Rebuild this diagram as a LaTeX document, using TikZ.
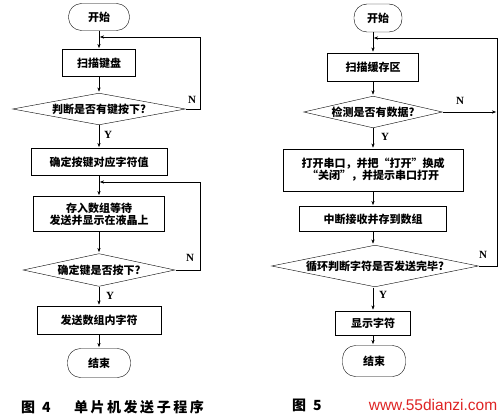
\documentclass[tikz,border=0pt]{standalone}
\usepackage{fontspec}
\setmainfont{Liberation Serif}
\newfontfamily\cjk{Noto Sans CJK SC}
\newfontfamily\capfont[LetterSpace=18]{Noto Sans CJK SC}
\newfontfamily\wmfont{Liberation Sans}
\usetikzlibrary{arrows.meta, shapes.geometric}
\definecolor{wmred}{RGB}{222,36,36}

\begin{document}
\begin{tikzpicture}[x=1pt, y=-1pt,
    every node/.style={font=\cjk\bfseries\fontsize{11}{14}\selectfont},
    term/.style={draw, rounded corners=13pt, inner sep=0pt},
    proc/.style={draw, inner sep=0pt, align=center},
    decide/.style={draw, diamond, inner sep=0pt},
    arr/.style={-{Stealth[length=6pt,width=4.5pt]}},
    yn/.style={font=\bfseries\fontsize{11}{12}\selectfont}]
    \useasboundingbox (0,0) rectangle (503,417);
    \tikzset{line width=1pt}

    % 图4 左侧流程
    \node[term, minimum width=61pt, minimum height=27pt] (s1) at (99,17) {开始};
    \node[proc, minimum width=73pt, minimum height=27pt] (b1) at (99,63) {扫描键盘};
    \node[decide, minimum width=173pt, minimum height=32pt] (d1) at (99,109) {\makebox[0pt]{判断是否有键按下?}};
    \node[proc, minimum width=136pt, minimum height=27pt] (b2) at (99,162) {确定按键对应字符值};
    \node[proc, minimum width=131pt, minimum height=35pt] (b3) at (99,214) {存入数组等待\\[-2pt]发送并显示在液晶上};
    \node[decide, minimum width=152pt, minimum height=33pt] (d2) at (99,270) {\makebox[0pt]{确定键是否按下?}};
    \node[proc, minimum width=124pt, minimum height=28pt] (b4) at (99,320) {发送数组内字符};
    \node[term, minimum width=63pt, minimum height=29pt] (e1) at (99,363) {结束};
    \coordinate (j1) at (99,37);
    \coordinate (j2) at (99,182);
    \coordinate (l1) at (200,37);
    \coordinate (l2) at (200,182);

    \draw[arr] (s1) -- (b1);
    \draw[arr] (b1) -- (d1);
    \draw[arr] (d1) -- (b2);
    \draw[arr] (b2) -- (b3);
    \draw[arr] (b3) -- (d2);
    \draw[arr] (d2) -- (b4);
    \draw[arr] (b4) -- (e1);
    \draw[arr] (d1.east) -| (l1) -- (j1);
    \draw[arr] (d2.east) -| (l2) -- (j2);
    \node[yn] (n1) at (192,100) {N};
    \node[yn] (y1) at (108,135) {Y};
    \node[yn] (n2) at (190,258) {N};
    \node[yn] (y2) at (110,296) {Y};

    % 图5 右侧流程
    \node[term, minimum width=48pt, minimum height=28pt] (s2) at (378,18) {开始};
    \node[proc, minimum width=91pt, minimum height=28pt] (b5) at (373,67) {扫描缓存区};
    \node[decide, minimum width=139pt, minimum height=32pt] (c1) at (373,112) {\makebox[0pt]{检测是否有数据?}};
    \node[proc, minimum width=180pt, minimum height=42pt] (b6) at (373,170) {打开串口，并把“打开”换成\\[-2pt]“关闭”，并提示串口打开};
    \node[proc, minimum width=147pt, minimum height=25pt] (b7) at (373,219) {中断接收并存到数组};
    \node[decide, minimum width=207pt, minimum height=42pt] (c2) at (375,266) {\makebox[0pt]{循环判断字符是否发送完毕?}};
    \node[proc, minimum width=75pt, minimum height=24pt] (b8) at (373,323) {显示字符};
    \node[term, minimum width=63pt, minimum height=31pt] (e2) at (374,361) {结束};
    \coordinate (rj) at (373,38);
    \coordinate (rt) at (497,38);

    \draw[arr] (s2.south -| b5) -- (b5);
    \draw[arr] (b5) -- (c1);
    \draw[arr] (c1) -- (b6);
    \draw[arr] (b6) -- (b7);
    \draw[arr] (b7) -- (c2.north -| b7);
    \draw[arr] (c2.south -| b8) -- (b8);
    \draw[arr] (b8) -- (e2.north -| b8);
    \draw[arr] (c1.east) -- (c1.east -| rt);
    \draw[arr] (c2.east) -| (rt) -- (rj);
    \node[yn] (n3) at (460,101) {N};
    \node[yn] (y3) at (385,137) {Y};
    \node[yn] (n4) at (483,255) {N};
    \node[yn] (y4) at (383,295) {Y};

    % 图题
    \node[font=\cjk\bfseries\fontsize{14}{16}\selectfont] (f4) at (36,407) {图\hspace{0.5em}4};
    \node[font=\capfont\bfseries\fontsize{14}{16}\selectfont] (t4) at (139,407) {单片机发送子程序};
    \node[font=\cjk\bfseries\fontsize{14}{16}\selectfont] (f5) at (307,405) {图\hspace{0.5em}5};
    \node[font=\wmfont\fontsize{15.5}{17}\selectfont, text=wmred] (wm) at (433,405) {www.55dianzi.com};
\end{tikzpicture}
\end{document}
